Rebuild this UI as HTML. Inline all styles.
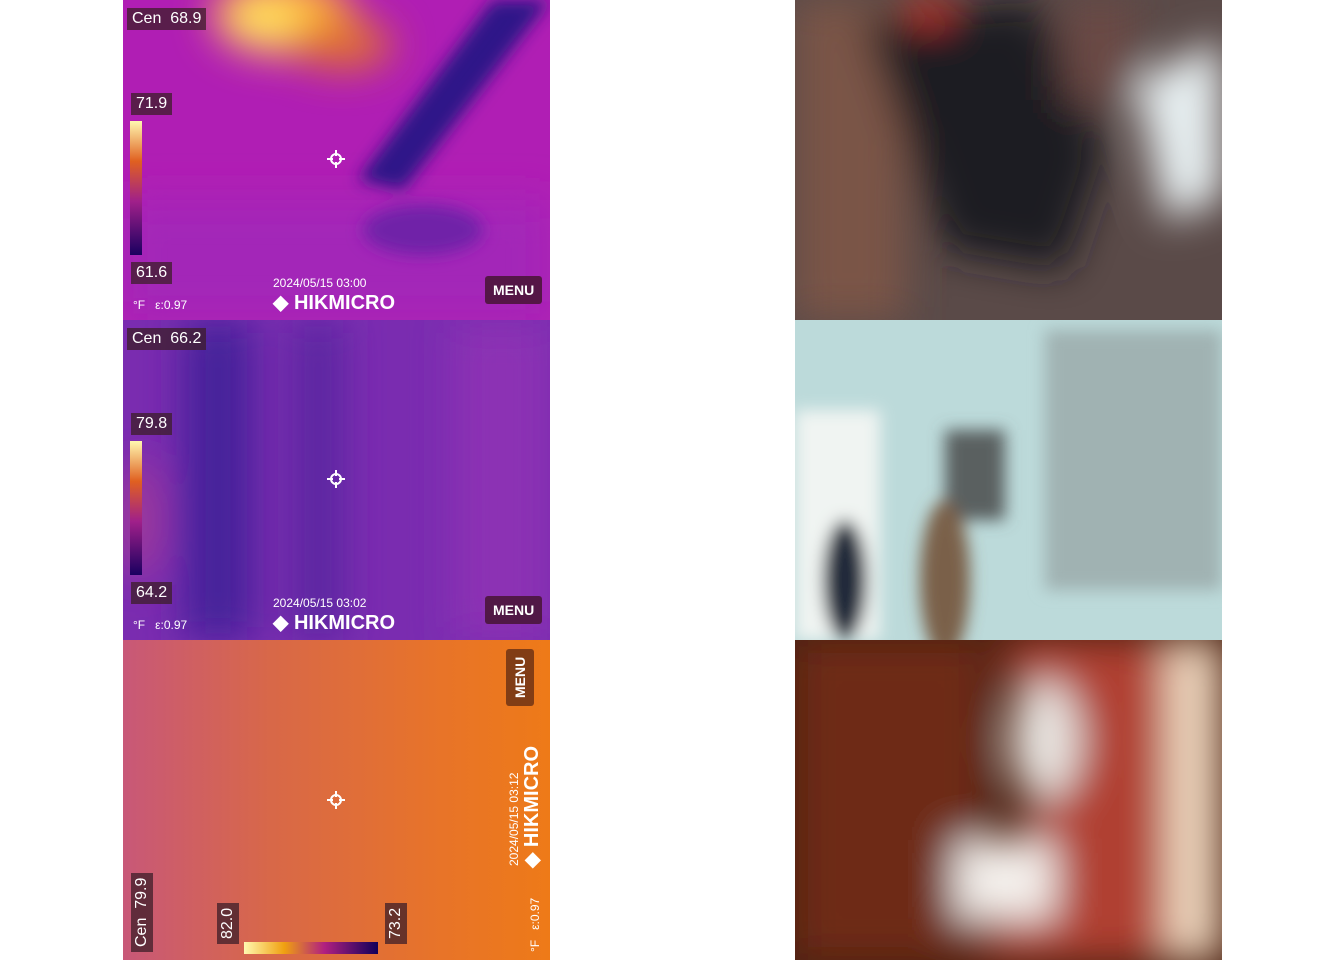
<!DOCTYPE html>
<html><head><meta charset="utf-8"><style>
body{margin:0;width:1344px;height:960px;background:#fff;position:relative;overflow:hidden;font-family:"Liberation Sans",sans-serif}
.p{position:absolute;width:427px;height:320px;overflow:hidden}
.p svg{position:absolute;left:0;top:0}
.p div{white-space:nowrap}
.lbl{position:absolute;background:rgba(60,30,40,.75);color:#fff;font-size:16px;padding:1px 5px;line-height:20px}
.menu{position:absolute;background:rgba(70,20,50,.85);color:#fff;font-size:14px;font-weight:bold;padding:6px 8px;border-radius:3px}
.sm{position:absolute;color:#fff;font-size:12px}
.brand{position:absolute;color:#fff;font-weight:bold;font-size:20px}
.cross{position:absolute;width:18px;height:18px}
</style></head><body>
<svg width="0" height="0" style="position:absolute"><defs>
<filter id="b30"><feGaussianBlur stdDeviation="30"/></filter>
<filter id="b20"><feGaussianBlur stdDeviation="20"/></filter>
<filter id="b12"><feGaussianBlur stdDeviation="8"/></filter>
<linearGradient id="ir" x1="0" y1="1" x2="0" y2="0"><stop offset="0" stop-color="#1a0060"/><stop offset=".4" stop-color="#a0208a"/><stop offset=".7" stop-color="#e06020"/><stop offset="1" stop-color="#fff8b0"/></linearGradient>
<linearGradient id="irh" x1="0" y1="0" x2="1" y2="0"><stop offset="0" stop-color="#fff8b0"/><stop offset=".3" stop-color="#f0a010"/><stop offset=".6" stop-color="#b02080"/><stop offset="1" stop-color="#10005a"/></linearGradient>
</defs></svg>

<div class="p" style="left:123px;top:0">
<svg width="427" height="320"><rect width="427" height="320" fill="#b01eb4"/>
<g filter="url(#b20)"><rect x="0" y="200" width="427" height="120" fill="#a328b8"/><ellipse cx="160" cy="15" rx="70" ry="40" fill="#ffb030"/><ellipse cx="140" cy="20" rx="40" ry="25" fill="#ffe060"/><ellipse cx="220" cy="45" rx="50" ry="25" fill="#e07030"/></g>
<g filter="url(#b12)"><polygon points="370,0 427,0 280,190 235,180" fill="#2e1488"/><ellipse cx="300" cy="230" rx="60" ry="25" fill="#7020a8"/></g>
</svg>
<div class="lbl" style="left:4px;top:8px">Cen&nbsp; 68.9</div>
<div class="lbl" style="left:8px;top:93px">71.9</div>
<div class="lbl" style="left:8px;top:262px">61.6</div>
<svg width="12" height="134" style="left:7px;top:121px"><rect width="12" height="134" fill="url(#ir)"/></svg>
<div class="sm" style="left:10px;top:298px">°F &nbsp; ε:0.97</div>
<div class="sm" style="left:150px;top:276px">2024/05/15 03:00</div>
<div class="brand" style="left:150px;top:290px">◆ HIKMICRO</div>
<div class="menu" style="left:362px;top:276px">MENU</div>
<svg class="cross" style="left:204px;top:150px" viewBox="0 0 18 18"><circle cx="9" cy="9" r="5" stroke="#fff" stroke-width="2" fill="none"/><path d="M9 0v6M9 12v6M0 9h6M12 9h6" stroke="#fff" stroke-width="2"/></svg>
</div>

<div class="p" style="left:123px;top:320px">
<svg width="427" height="320"><rect width="427" height="320" fill="#7a2cb0"/>
<g filter="url(#b20)"><rect x="60" y="0" width="70" height="320" fill="#44209a"/><rect x="170" y="0" width="50" height="320" fill="#5a25a0"/><rect x="330" y="0" width="97" height="320" fill="#8c30b4"/><ellipse cx="15" cy="200" rx="15" ry="60" fill="#b04090"/></g>
</svg>
<div class="lbl" style="left:4px;top:8px">Cen&nbsp; 66.2</div>
<div class="lbl" style="left:8px;top:93px">79.8</div>
<div class="lbl" style="left:8px;top:262px">64.2</div>
<svg width="12" height="134" style="left:7px;top:121px"><rect width="12" height="134" fill="url(#ir)"/></svg>
<div class="sm" style="left:10px;top:298px">°F &nbsp; ε:0.97</div>
<div class="sm" style="left:150px;top:276px">2024/05/15 03:02</div>
<div class="brand" style="left:150px;top:290px">◆ HIKMICRO</div>
<div class="menu" style="left:362px;top:276px">MENU</div>
<svg class="cross" style="left:204px;top:150px" viewBox="0 0 18 18"><circle cx="9" cy="9" r="5" stroke="#fff" stroke-width="2" fill="none"/><path d="M9 0v6M9 12v6M0 9h6M12 9h6" stroke="#fff" stroke-width="2"/></svg>
</div>

<div class="p" style="left:123px;top:640px">
<svg width="427" height="320"><defs><linearGradient id="g3" x1="0" y1="0" x2="1" y2="0"><stop offset="0" stop-color="#c85878"/><stop offset=".35" stop-color="#d86848"/><stop offset=".75" stop-color="#e87428"/><stop offset="1" stop-color="#ee7a18"/></linearGradient></defs><rect width="427" height="320" fill="url(#g3)"/></svg>
<div class="lbl" style="left:8px;top:312px;transform:rotate(-90deg);transform-origin:0 0">Cen&nbsp; 79.9</div>
<div class="lbl" style="left:94px;top:304px;transform:rotate(-90deg);transform-origin:0 0">82.0</div>
<div class="lbl" style="left:262px;top:304px;transform:rotate(-90deg);transform-origin:0 0">73.2</div>
<svg width="134" height="12" style="left:121px;top:302px"><rect width="134" height="12" fill="url(#irh)"/></svg>
<div class="menu" style="left:383px;top:66px;transform:rotate(-90deg);transform-origin:0 0;background:rgba(110,50,20,.85)">MENU</div>
<div class="sm" style="left:384px;top:226px;transform:rotate(-90deg);transform-origin:0 0">2024/05/15 03:12</div>
<div class="brand" style="left:396px;top:228px;transform:rotate(-90deg);transform-origin:0 0">◆ HIKMICRO</div>
<div class="sm" style="left:405px;top:312px;transform:rotate(-90deg);transform-origin:0 0">°F &nbsp; ε:0.97</div>
<svg class="cross" style="left:204px;top:151px" viewBox="0 0 18 18"><circle cx="9" cy="9" r="5" stroke="#fff" stroke-width="2" fill="none"/><path d="M9 0v6M9 12v6M0 9h6M12 9h6" stroke="#fff" stroke-width="2"/></svg>
</div>

<div class="p" style="left:795px;top:0">
<svg width="427" height="320"><rect width="427" height="320" fill="#5a4a48"/>
<g filter="url(#b20)"><rect x="0" y="0" width="110" height="320" fill="#7a5446"/><polygon points="70,20 240,0 310,150 270,270 150,250" fill="#1c1c20"/><polygon points="340,80 427,40 427,200 370,220" fill="#e6eef0"/><rect x="270" y="0" width="70" height="100" fill="#6a4a45"/><ellipse cx="135" cy="10" rx="18" ry="14" fill="#e03020"/></g>
</svg></div>

<div class="p" style="left:795px;top:320px">
<svg width="427" height="320"><rect width="427" height="320" fill="#bcdada"/>
<g filter="url(#b12)"><rect x="0" y="90" width="85" height="230" fill="#f0f4f2"/><rect x="250" y="10" width="177" height="260" fill="#a0b2b2"/><rect x="150" y="110" width="60" height="90" fill="#5a6060"/><ellipse cx="50" cy="260" rx="22" ry="60" fill="#222a3a"/><ellipse cx="150" cy="260" rx="25" ry="80" fill="#7a6048"/></g>
</svg></div>

<div class="p" style="left:795px;top:640px">
<svg width="427" height="320"><rect width="427" height="320" fill="#4a2010"/>
<g filter="url(#b20)"><rect x="0" y="0" width="190" height="320" fill="#6e2c14"/><polygon points="210,0 427,0 427,320 190,320 240,150" fill="#b04030"/><ellipse cx="250" cy="100" rx="35" ry="60" fill="#e8e4e0"/><rect x="370" y="0" width="57" height="320" fill="#ecd4bc"/><rect x="160" y="200" width="100" height="80" fill="#f4f0ec"/></g>
</svg></div>
</body></html>
